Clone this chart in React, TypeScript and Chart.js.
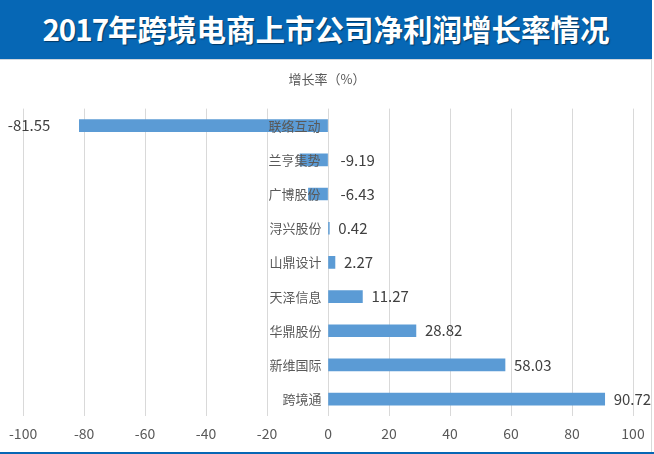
import React, { useEffect, useRef } from "react";
import { Chart, registerables } from "chart.js";

Chart.register(...registerables);

const TITLE_YEAR = "2017";
const TITLE_REST = "年跨境电商上市公司净利润增长率情况";
const AXIS_TITLE = "增长率（%）";
const categories = ["联络互动", "兰亨集势", "广博股份", "浔兴股份", "山鼎设计", "天泽信息", "华鼎股份", "新维国际", "跨境通"];
const growth = [-81.55, -9.19, -6.43, 0.42, 2.27, 11.27, 28.82, 58.03, 90.72];
const xMin = -100;
const xMax = 100;
const xStep = 20;

const FONT = "'Noto Sans CJK SC', 'Noto Sans', sans-serif";

const labelPlugin = {
  id: "barLabels",
  afterDatasetsDraw(chart: any) {
    const ctx = chart.ctx;
    const meta = chart.getDatasetMeta(0);
    ctx.save();
    meta.data.forEach((el: any, i: number) => {
      const v = growth[i];
      const base = el.base;
      const y = el.y;
      ctx.font = `13px ${FONT}`;
      ctx.fillStyle = "#595959";
      ctx.textAlign = "right";
      ctx.textBaseline = "middle";
      ctx.fillText(categories[i], base - 7, y);
      ctx.font = `15px ${FONT}`;
      ctx.fillStyle = "#404040";
      const txt = v.toFixed(2);
      if (v < -50) {
        ctx.textAlign = "right";
        ctx.fillText(txt, el.x - 29, y);
      } else if (v < 0) {
        ctx.textAlign = "left";
        ctx.fillText(txt, base + 13, y);
      } else {
        ctx.textAlign = "left";
        ctx.fillText(txt, el.x + 9, y);
      }
    });
    ctx.restore();
  },
};

export default function App() {
  const ref = useRef<HTMLCanvasElement>(null);
  useEffect(() => {
    document.body.style.margin = "0";
    const chart = new Chart(ref.current!, {
      type: "bar",
      data: {
        labels: categories,
        datasets: [
          {
            data: growth,
            backgroundColor: "#5b9bd5",
            barThickness: 12,
          },
        ],
      },
      plugins: [labelPlugin],
      options: {
        indexAxis: "y",
        animation: false,
        responsive: false,
        layout: { padding: { left: 21, right: 21, top: 63, bottom: 3 } },
        plugins: {
          legend: { display: false },
          tooltip: { enabled: false },
          title: {
            display: true,
            text: AXIS_TITLE,
            color: "#595959",
            font: { size: 13, family: FONT, weight: "normal" },
            padding: { top: 8, bottom: 22 },
          },
        },
        scales: {
          x: {
            min: xMin,
            max: xMax,
            ticks: {
              stepSize: xStep,
              color: "#595959",
              font: { size: 14, family: FONT },
              padding: 9,
              maxRotation: 0,
            },
            grid: { color: "#d9d9d9", drawTicks: false },
            border: { display: false },
          },
          y: { display: false },
        },
      },
    });
    return () => chart.destroy();
  }, []);

  return (
    <div style={{ position: "fixed", left: 0, top: 0, width: 654, height: 454, background: "#fff", overflow: "hidden" }}>
      <canvas ref={ref} width={654} height={454} style={{ position: "absolute", left: 0, top: 0 }} />
      <div
        style={{
          position: "absolute",
          left: 0,
          top: 0,
          width: 652,
          height: 59,
          background: "#0667b5",
          color: "#fff",
          fontFamily: FONT,
          fontWeight: 700,
          fontSize: 29.5,
          lineHeight: "57px",
          textAlign: "center",
          textShadow: "1px 1px 1px rgba(0,0,0,0.45)",
          whiteSpace: "nowrap",
        }}
      >
        <span style={{ letterSpacing: "-1px" }}>{TITLE_YEAR}</span>
        {TITLE_REST}
      </div>
      <div style={{ position: "absolute", left: 0, top: 59, width: 652, height: 1, background: "#d0d7de" }} />
      <div style={{ position: "absolute", left: 651, top: 59, width: 1, height: 393, background: "#d9d9d9" }} />
      <div style={{ position: "absolute", left: 0, top: 452, width: 654, height: 2, background: "#0667b5" }} />
    </div>
  );
}
